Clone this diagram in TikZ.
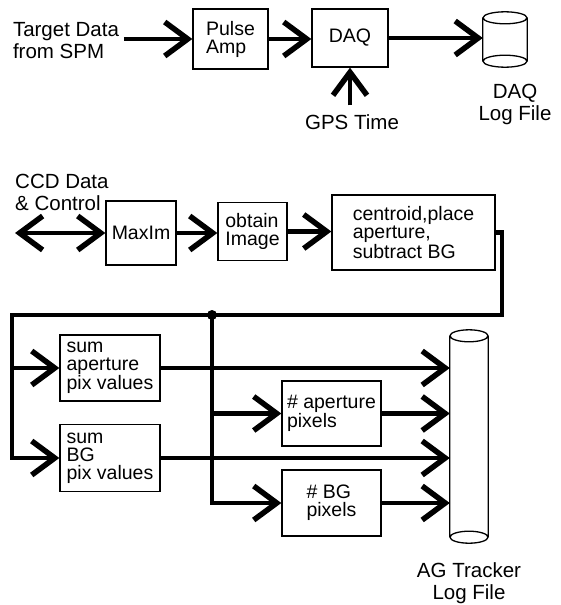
\documentclass[tikz,border=0pt]{standalone}
\usepackage{fontspec}
\setmainfont{Liberation Sans}
\usetikzlibrary{arrows.meta}

\begin{document}
\begin{tikzpicture}[x=1pt,y=-1pt,
    caja/.style={draw, line width=1.3pt, align=left, inner sep=0pt, font=\fontsize{19.5}{18}\selectfont},
    texto/.style={align=center, inner sep=0pt, font=\fontsize{20.5}{22}\selectfont},
    cil/.style={line width=1.3pt},
    punta/.tip={Straight Barb[length=23pt,width=34pt,line width=5.5pt]},
    flecha/.style={line width=4.5pt, -punta},
    doble/.style={line width=4.5pt, punta-punta}]
  \useasboundingbox (0,0) rectangle (561,605);

  % Cadena superior
  \node[texto, align=left, anchor=west, outer xsep=5pt] (spm) at (8,41) {Target Data\\from SPM};
  \node[caja, minimum width=75pt, minimum height=60pt] (pamp) at (230.5,39) {Pulse\\Amp};
  \node[caja, minimum width=76pt, minimum height=58pt] (daq) at (350,38) {DAQ};
  \node[texto, outer ysep=9pt] (gps) at (352,122) {GPS Time};
  \node[minimum width=44pt, minimum height=43pt, inner sep=0pt] (dlog) at (505,39.5) {};
  \node[texto] (dlogtxt) at (515,104) {DAQ\\Log File};

  % Cilindro DAQ
  \draw[cil] (dlog.north west) -- (dlog.south west) (dlog.north east) -- (dlog.south east)
    (dlog.north) ellipse [x radius=22, y radius=6] (dlog.south) ellipse [x radius=22, y radius=6];

  \draw[flecha] (spm.east |- pamp.west) -- (pamp.west);
  \draw[flecha] (pamp.east) -- (pamp.east -| daq.west);
  \draw[flecha] (daq.south |- gps.north) -- (daq.south);
  \draw[flecha] (daq.east) -- (daq.east -| dlog.west);

  % Cadena CCD
  \node[texto, align=left, anchor=south west] (ccd) at (15,211) {CCD Data\\\& Control};
  \coordinate (ccdin) at (15,233);
  \node[caja, minimum width=70pt, minimum height=64pt] (maxim) at (141,233) {MaxIm};
  \node[caja, minimum width=69pt, minimum height=58pt] (obtain) at (252.5,231.5) {obtain\\Image};
  \node[caja, minimum width=163pt, minimum height=75pt] (cent) at (413.5,232.5) {centroid,place\\aperture,\\subtract BG};

  \draw[doble] (ccdin) -- (maxim.west);
  \draw[flecha] (maxim.east) -- (maxim.east -| obtain.west);
  \draw[flecha] (obtain.east) -- (obtain.east -| cent.west);

  % Sumas y conteos
  \node[caja, minimum width=100pt, minimum height=66pt] (sumap) at (110,368) {sum\\aperture\\pix values};
  \node[caja, minimum width=100pt, minimum height=67pt] (sumbg) at (110,458) {sum\\BG\\pix values};
  \node[caja, minimum width=99pt, minimum height=65pt] (nap) at (331.5,413.5) {\# aperture\\pixels};
  \node[caja, minimum width=99pt, minimum height=66pt] (nbg) at (331.5,503) {\# BG\\pixels};
  \node[minimum width=38pt, minimum height=201pt, inner sep=0pt] (aglog) at (469,436.5) {};
  \node[texto] (agtxt) at (469,583) {AG Tracker\\Log File};

  % Cilindro AG
  \draw[cil] (aglog.north west) -- (aglog.south west) (aglog.north east) -- (aglog.south east)
    (aglog.north) ellipse [x radius=19, y radius=6] (aglog.south) ellipse [x radius=19, y radius=6];

  % Bus
  \coordinate (cr) at (502,315);
  \coordinate (cl) at (12,315);
  \coordinate (jn) at (212,315);
  \draw[flecha] (cent.east) -| (cr) -- (cl) |- (sumbg.west);
  \draw[flecha] (cl |- sumap.west) -- (sumap.west);
  \draw[flecha] (jn) |- (nbg.west);
  \draw[flecha] (jn |- nap.west) -- (nap.west);
  \fill (jn) circle (5pt);

  % Hacia el archivo
  \draw[flecha] (sumap.east) -- (sumap.east -| aglog.west);
  \draw[flecha] (nap.east) -- (nap.east -| aglog.west);
  \draw[flecha] (sumbg.east) -- (sumbg.east -| aglog.west);
  \draw[flecha] (nbg.east) -- (nbg.east -| aglog.west);

\end{tikzpicture}
\end{document}
